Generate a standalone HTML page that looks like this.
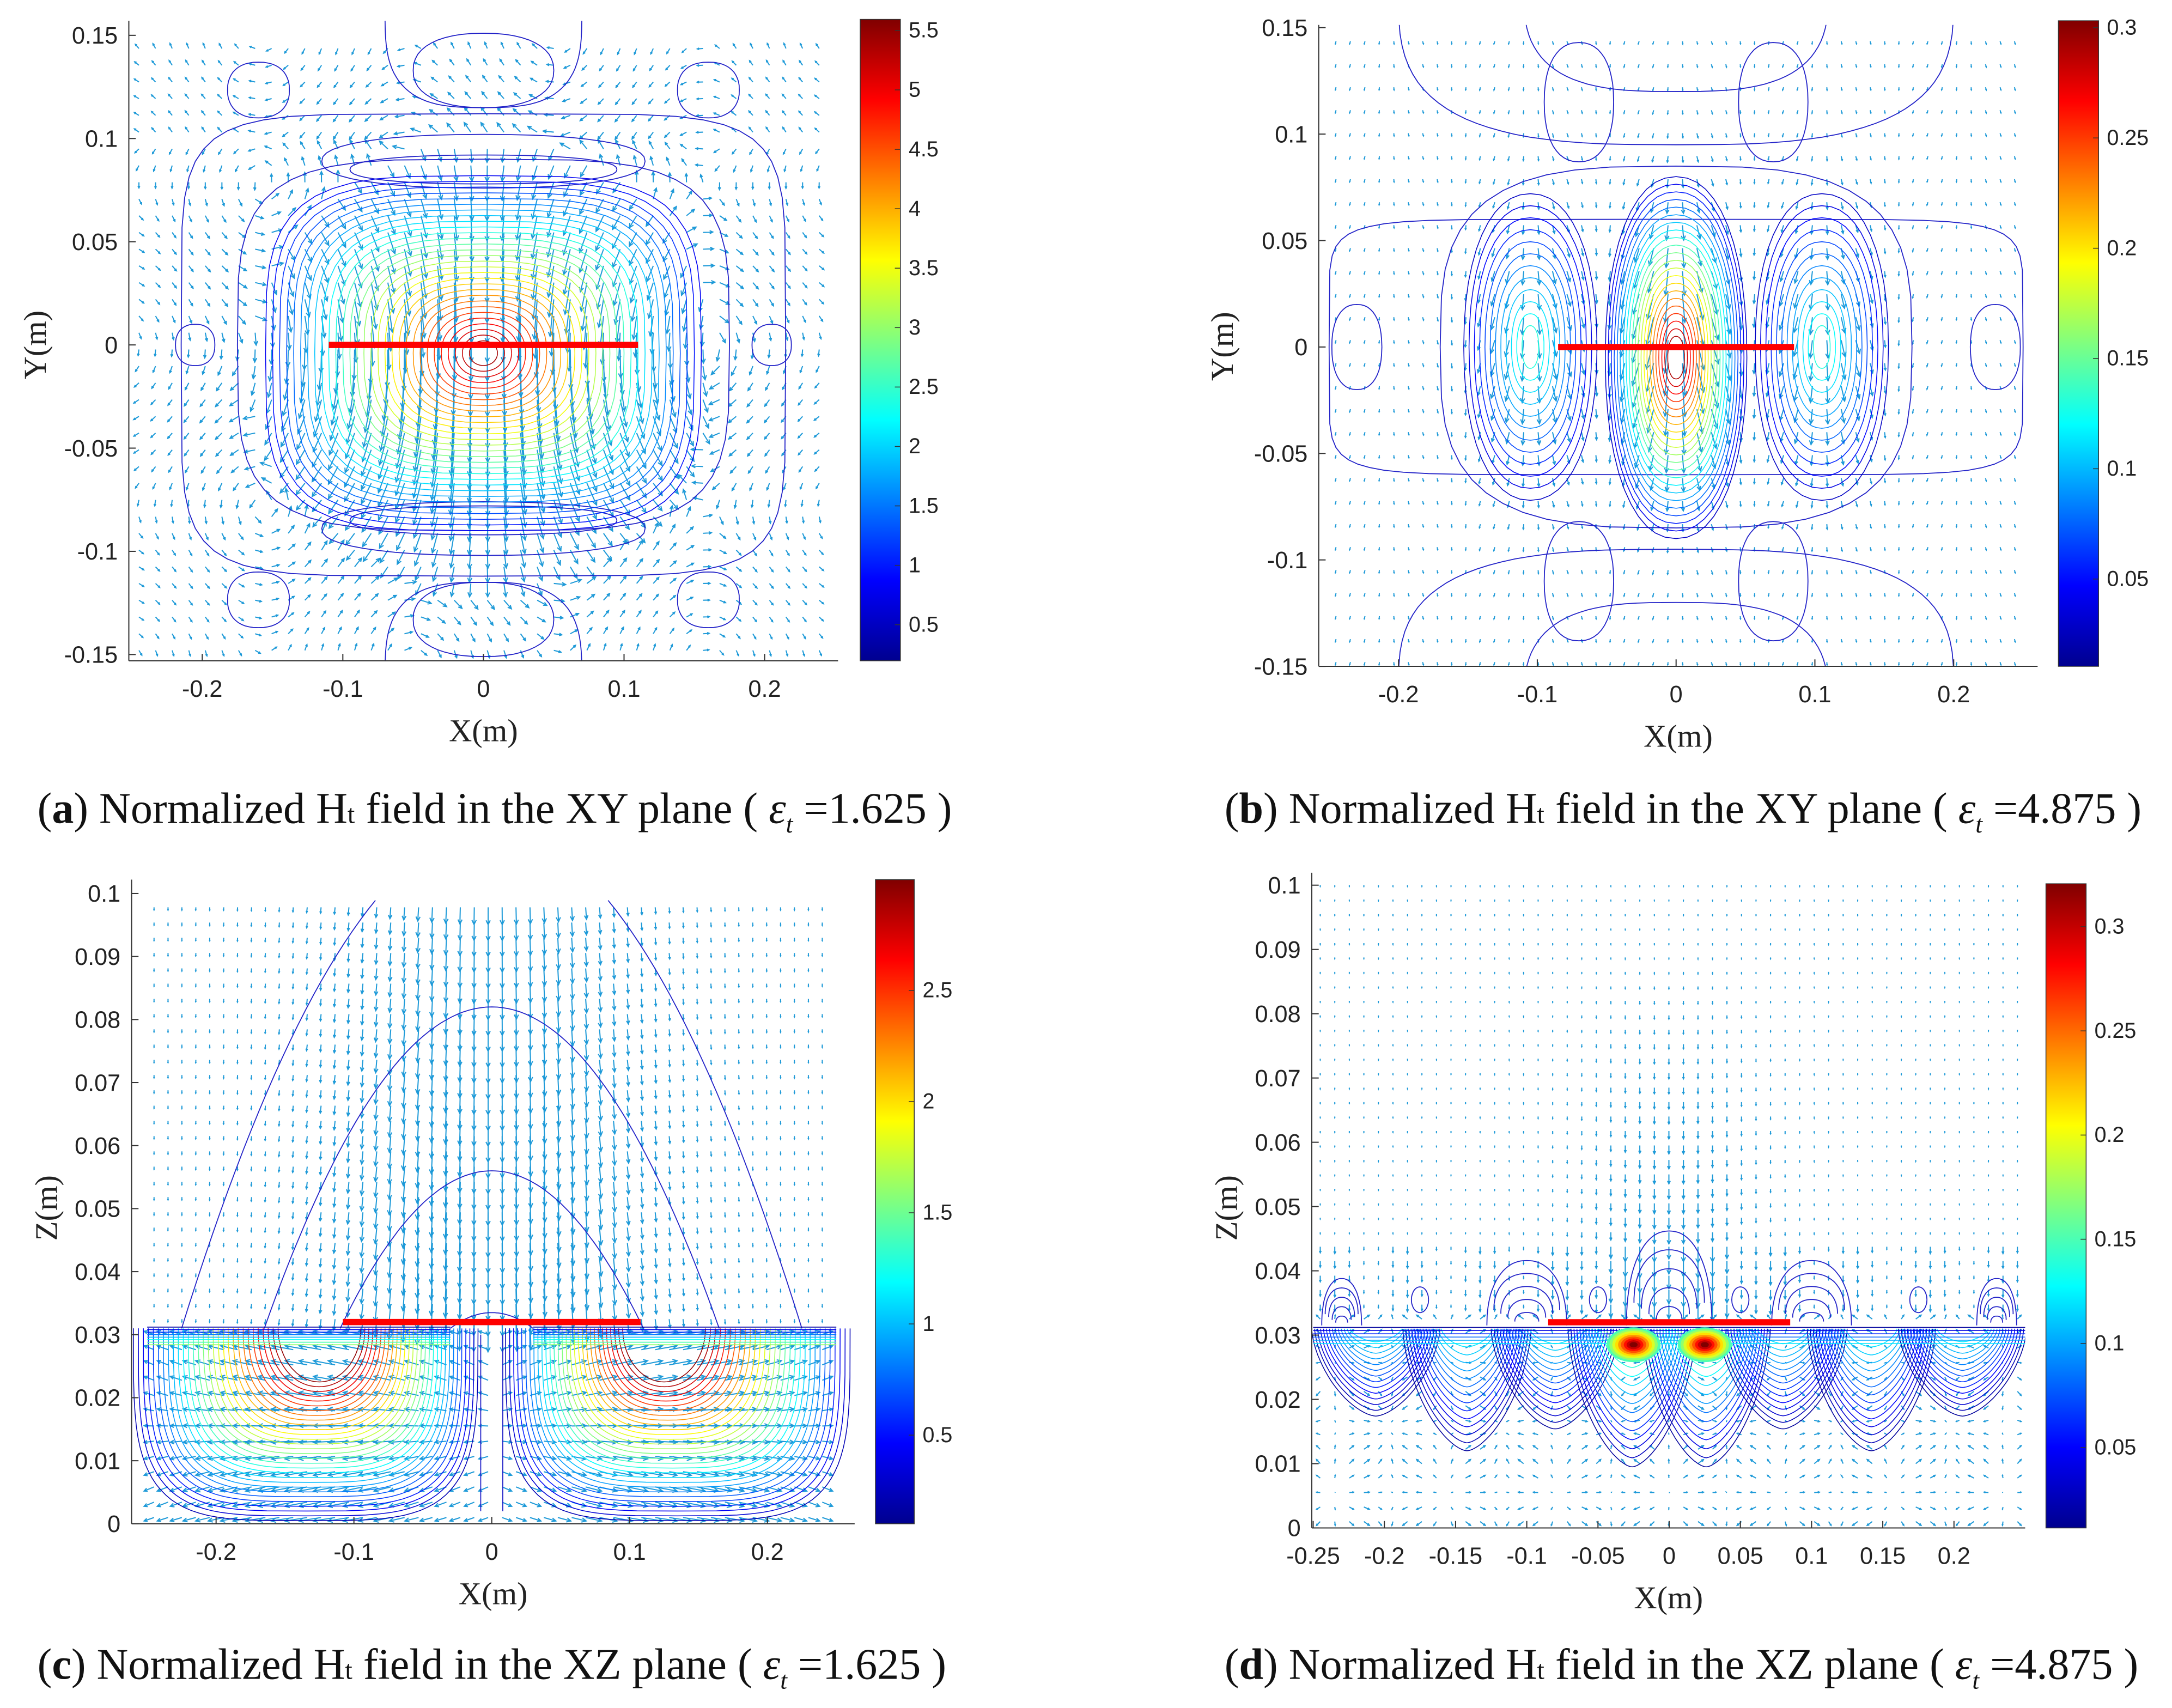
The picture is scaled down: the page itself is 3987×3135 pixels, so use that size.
<!DOCTYPE html>
<html><head><meta charset="utf-8"><style>
html,body{margin:0;padding:0;background:#fff;}
svg{display:block;}
text{font-family:"Liberation Sans",sans-serif;}
.serif{font-family:"Liberation Serif",serif;}
</style></head><body>
<svg id="fig" xmlns="http://www.w3.org/2000/svg" width="3987" height="3135" viewBox="0 0 1568 1233" preserveAspectRatio="none">
<defs>
<linearGradient id="jetgrad" x1="0" y1="1" x2="0" y2="0">
<stop offset="0" stop-color="#00008f"/><stop offset="0.125" stop-color="#0000ff"/><stop offset="0.375" stop-color="#00ffff"/><stop offset="0.625" stop-color="#ffff00"/><stop offset="0.875" stop-color="#ff0000"/><stop offset="1" stop-color="#800000"/>
</linearGradient>
<clipPath id="clipA"><rect x="93" y="15" width="512" height="462"/></clipPath>
<clipPath id="clipB"><rect x="952" y="18" width="519" height="463"/></clipPath>
<clipPath id="clipC"><rect x="95" y="630" width="522" height="470"/></clipPath>
<clipPath id="clipD"><rect x="947" y="630" width="515" height="473"/></clipPath>
</defs>
<text class="serif" x="27" y="594" font-size="31.5" fill="#111">(<tspan font-weight="bold">a</tspan>) Normalized H<tspan font-size="19">t</tspan> field in the XY plane ( <tspan font-style="italic">ε</tspan><tspan font-style="italic" font-size="18" dy="7">t</tspan><tspan dy="-7"> =</tspan>1.625 )</text>
<text class="serif" x="884" y="594" font-size="31.5" fill="#111">(<tspan font-weight="bold">b</tspan>) Normalized H<tspan font-size="19">t</tspan> field in the XY plane ( <tspan font-style="italic">ε</tspan><tspan font-style="italic" font-size="18" dy="7">t</tspan><tspan dy="-7"> =</tspan>4.875 )</text>
<text class="serif" x="27" y="1212" font-size="31.5" fill="#111">(<tspan font-weight="bold">c</tspan>) Normalized H<tspan font-size="19">t</tspan> field in the XZ plane ( <tspan font-style="italic">ε</tspan><tspan font-style="italic" font-size="18" dy="7">t</tspan><tspan dy="-7"> =</tspan>1.625 )</text>
<text class="serif" x="884" y="1212" font-size="31.5" fill="#111">(<tspan font-weight="bold">d</tspan>) Normalized H<tspan font-size="19">t</tspan> field in the XZ plane ( <tspan font-style="italic">ε</tspan><tspan font-style="italic" font-size="18" dy="7">t</tspan><tspan dy="-7"> =</tspan>4.875 )</text>
</svg>
<script>
var xTicksAB = [-0.2,-0.1,0,0.1,0.2];
var yTicksAB = [0.15,0.1,0.05,0,-0.05,-0.1,-0.15];
var zTicks = [0.1,0.09,0.08,0.07,0.06,0.05,0.04,0.03,0.02,0.01,0];
var xTicksD = [-0.25,-0.2,-0.15,-0.1,-0.05,0,0.05,0.1,0.15,0.2];
var cbTicksA = [0.5,1,1.5,2,2.5,3,3.5,4,4.5,5,5.5];
var cbTicksB = [0.05,0.1,0.15,0.2,0.25,0.3];
var cbTicksC = [0.5,1,1.5,2,2.5];
var cbTicksD = [0.05,0.1,0.15,0.2,0.25,0.3];
var barA = [-0.11,0.11];
var barB = [-0.085,0.085];
var barC = [-0.108,0.108];
var barD = [-0.085,0.085];
var lobeCentersB = [-0.105,0,0.105];
var lobePeaksB = [0.13,0.29,0.13];
var lobeCentersD = [-0.23,-0.1,0,0.1,0.23];
var lobeTopsD = [0.0388,0.0416,0.0462,0.0416,0.0388];
var dipCentersD = [-0.206,-0.142,-0.08,-0.026,0.026,0.08,0.142,0.206];
var dipDepthsD = [0.0174,0.012,0.0154,0.0095,0.0095,0.0154,0.012,0.0174];
var parabolaHalfWidthC = [0.225,0.165,0.11,0.03];
var parabolaPeaksC = [0.11,0.082,0.056,0.0335];

var SVGNS='http://www.w3.org/2000/svg';
var ROOT=document.getElementById('fig');
function mk(tag,parent,attrs){var e=document.createElementNS(SVGNS,tag);for(var k in attrs){e.setAttribute(k,attrs[k]);}(parent||ROOT).appendChild(e);return e;}
function jetc(t){t=Math.max(0,Math.min(1,t));function c(v){return Math.round(255*Math.max(0,Math.min(1,v)));}
 return 'rgb('+c(1.5-Math.abs(4*t-3))+','+c(1.5-Math.abs(4*t-2))+','+c(1.5-Math.abs(4*t-1))+')';}
var panels={
 A:{x0:93,x1:605,y0:15,y1:477,fx:function(v){return 349+v*1015;},fy:function(v){return 249-v*1490;},cb:[621,650,14,477],cbf:function(v){return 451-(v-0.5)*85.8;},vmin:0.197,vmax:5.59,clip:'clipA',ylx:33},
 B:{x0:952,x1:1471,y0:18,y1:481,fx:function(v){return 1210+v*1002;},fy:function(v){return 250.5-v*1537;},cb:[1486,1515,15,481],cbf:function(v){return 418-(v-0.05)*1592;},vmin:0.0104,vmax:0.303,clip:'clipB',ylx:890},
 C:{x0:95,x1:617,y0:635,y1:1100,fx:function(v){return 355+v*995;},fy:function(v){return 1100-v*4550;},cb:[632,660,635,1100],cbf:function(v){return 1036-(v-0.5)*160.5;},vmin:0.1,vmax:3.0,clip:'clipC',ylx:41},
 D:{x0:947,x1:1462,y0:630,y1:1103,fx:function(v){return 1205+v*1028;},fy:function(v){return 1103-v*4640;},cb:[1477,1506,638,1103],cbf:function(v){return 1045-(v-0.05)*1504;},vmin:0.0114,vmax:0.32,clip:'clipD',ylx:893}
};
function col(p,v){return jetc((v-p.vmin)/(p.vmax-p.vmin));}
function range(a,b,s){var r=[];for(var v=a;v<=b+1e-9;v+=s){r.push(v);}return r;}
var BL='#2222c8';
var TWO=2*Math.PI;

function axes(p,key,xt,yt,xlab,ylab,ylabY){
 var g=mk('g',null,{});
 
 
 mk('line',g,{x1:p.x0,y1:p.y0,x2:p.x0,y2:p.y1,stroke:'#333','stroke-width':0.8});
 mk('line',g,{x1:p.x0,y1:p.y1,x2:p.x1,y2:p.y1,stroke:'#333','stroke-width':0.8});
 xt.forEach(function(v){var x=p.fx(v);mk('line',g,{x1:x,y1:p.y1,x2:x,y2:p.y1-5,stroke:'#333','stroke-width':0.8});
  var t=mk('text',g,{x:x,y:p.y1+26,'text-anchor':'middle','font-size':17,fill:'#222'});t.textContent=String(v);
  
  });
 yt.forEach(function(v){var y=p.fy(v);mk('line',g,{x1:p.x0,y1:y,x2:p.x0+5,y2:y,stroke:'#333','stroke-width':0.8});
  var t=mk('text',g,{x:p.x0-8,y:y+6,'text-anchor':'end','font-size':17,fill:'#222'});t.textContent=String(v);
  
  });
 var xl=mk('text',g,{x:(p.x0+p.x1)/2,y:p.y1+58,'text-anchor':'middle','font-size':23,'class':'serif',fill:'#222'});xl.textContent=xlab;
 
 
 var ly=mk('text',g,{x:0,y:0,'text-anchor':'middle','font-size':23,'class':'serif',fill:'#222',transform:'translate('+p.ylx+','+ylabY+') rotate(-90)'});ly.textContent=ylab;
 
 
}
function colorbar(p,key,ticks){
 var x0=p.cb[0],x1=p.cb[1],y0=p.cb[2],y1=p.cb[3];var g=mk('g',null,{});
 
 
 mk('rect',g,{x:x0,y:y0,width:x1-x0,height:y1-y0,fill:'url(#jetgrad)',stroke:'#333','stroke-width':0.6});
 ticks.forEach(function(v){var y=p.cbf(v);mk('line',g,{x1:x1-4,y1:y,x2:x1,y2:y,stroke:'#333','stroke-width':0.6});
  var t=mk('text',g,{x:x1+6,y:y+5,'font-size':15.5,fill:'#222'});t.textContent=String(v);
  
  });
}
function quiver(p,key,fn,xs,ys){
 var d='';
 for(var i=0;i<xs.length;i++){for(var j=0;j<ys.length;j++){var x=xs[i],y=ys[j];var r=fn(x,y);if(!r){continue;}var dx=r[0],dy=r[1];var px=p.fx(x),py=p.fy(y);
  var L=Math.hypot(dx,dy);if(L<0.3){d+='M'+px.toFixed(1)+' '+py.toFixed(1)+'h0.8';continue;}
  var ex=px+dx,ey=py+dy;d+='M'+px.toFixed(1)+' '+py.toFixed(1)+'L'+ex.toFixed(1)+' '+ey.toFixed(1);
  var h=Math.min(3.5,0.35*L),a=Math.atan2(dy,dx);
  d+='M'+(ex-h*Math.cos(a-0.45)).toFixed(1)+' '+(ey-h*Math.sin(a-0.45)).toFixed(1)+'L'+ex.toFixed(1)+' '+ey.toFixed(1)+'L'+(ex-h*Math.cos(a+0.45)).toFixed(1)+' '+(ey-h*Math.sin(a+0.45)).toFixed(1);}}
 var e=mk('path',null,{d:d,stroke:'#1e9ad8','stroke-width':0.8,fill:'none','clip-path':'url(#'+p.clip+')'});
 
 
}
function sup(p,cx,cy,a,b,pw,t0,t1){var s='';var n=48;for(var i=0;i<=n;i++){var t=t0+(t1-t0)*i/n;var c=Math.cos(t),sn=Math.sin(t);
 var X=p.fx(cx+a*Math.sign(c)*Math.pow(Math.abs(c),2/pw)),Y=p.fy(cy+b*Math.sign(sn)*Math.pow(Math.abs(sn),2/pw));
 s+=(i?'L':'M')+X.toFixed(1)+' '+Y.toFixed(1);}return s;}
function contour(p,key,d,color,w){var e=mk('path',null,{d:d,stroke:color,'stroke-width':w||0.7,fill:'none','clip-path':'url(#'+p.clip+')'});
 
 }
function bar(p,key,r,y){var e=mk('line',null,{x1:p.fx(r[0]),y1:p.fy(y),x2:p.fx(r[1]),y2:p.fy(y),stroke:'#ff0000','stroke-width':4.5});
 
 }

// Panel A
try{(function(){var p=panels.A;
 quiver(p,'a',function(x,y){var g=Math.exp(-(x/0.12)*(x/0.12)-((y+0.01)/0.08)*((y+0.01)/0.08));var L=4+32*g;
  var ux=-x*y*90, uy=1; if(g<0.15){ux=Math.sin(y*40)*0.8;uy=Math.cos(x*30);} var n=Math.hypot(ux,uy)||1;
  return [ux/n*L,(y>0.1?-1:1)*uy/n*L];}, range(-0.245,0.245,0.0118), range(-0.148,0.148,0.0081));
 contour(p,'a',sup(p,0,0,0.175,0.09,4,0,TWO),BL);
 contour(p,'a',sup(p,0,0,0.215,0.112,6,0,TWO),BL);
 var ells=[[0,0.133,0.05,0.018],[0,-0.133,0.05,0.018],[0,0.085,0.095,0.007],[0,-0.085,0.095,0.007],[0,0.089,0.115,0.013],[0,-0.089,0.115,0.013],
  [-0.16,0.1235,0.022,0.0135],[0.16,0.1235,0.022,0.0135],[-0.16,-0.1235,0.022,0.0135],[0.16,-0.1235,0.022,0.0135],
  [-0.205,0,0.014,0.01],[0.205,0,0.014,0.01]];
 ells.forEach(function(e){contour(p,'a',sup(p,e[0],e[1],e[2],e[3],2.3,0,TWO),BL);});
 contour(p,'a',sup(p,0,0.16,0.07,0.045,3,Math.PI,TWO),BL);contour(p,'a',sup(p,0,-0.16,0.07,0.045,3,0,Math.PI),BL);
 for(var k=0;k<30;k++){var f=k/29;var v=5.4-f*4.6;contour(p,'a',sup(p,0,-0.004,0.01+f*0.145,0.006+f*0.08,2+f*1.8,0,TWO),col(p,v),0.6);}
 bar(p,'a',barA,0);
 axes(p,'A',xTicksAB,yTicksAB,'X(m)','Y(m)',249);colorbar(p,'A',cbTicksA);
})();}catch(err){console.log(err);}

// Panel B
try{(function(){var p=panels.B;
 quiver(p,'b',function(x,y){var g=0;lobeCentersB.forEach(function(c,i){g+=(i==1?1:0.5)*Math.exp(-((x-c)/0.04)*((x-c)/0.04)-(y/0.06)*(y/0.06));});
  var L=2+22*g;return [Math.sin(x*60)*L*0.3,L];}, range(-0.245,0.245,0.0104), range(-0.148,0.148,0.0108));
 contour(p,'b',sup(p,0,0,0.17,0.085,3.2,0,TWO),BL);
 contour(p,'b',sup(p,0,0,0.25,0.06,8,0,TWO),BL);
 contour(p,'b',sup(p,0,0.165,0.2,0.07,3,Math.PI,TWO),BL);contour(p,'b',sup(p,0,-0.16,0.2,0.065,3,0,Math.PI),BL);
 contour(p,'b',sup(p,0,0.17,0.11,0.05,3,Math.PI,TWO),BL);contour(p,'b',sup(p,0,-0.17,0.11,0.05,3,0,Math.PI),BL);
 var ells=[[-0.07,0.115,0.025,0.028],[0.07,0.115,0.025,0.028],[-0.07,-0.11,0.025,0.028],[0.07,-0.11,0.025,0.028],[-0.23,0,0.018,0.02],[0.23,0,0.018,0.02]];
 ells.forEach(function(e){contour(p,'b',sup(p,e[0],e[1],e[2],e[3],2.3,0,TWO),BL);});
 lobeCentersB.forEach(function(c,i){var pk=lobePeaksB[i];var n=(i==1)?22:12;
  for(var k=0;k<n;k++){var f=k/(n-1);var v=pk-f*(pk-0.03);contour(p,'b',sup(p,c,i==1?-0.005:0,0.006+f*(i==1?0.045:0.042),0.01+f*(i==1?0.075:0.062),2.2,0,TWO),col(p,v),0.6);}});
 bar(p,'b',barB,0);
 axes(p,'B',xTicksAB,yTicksAB,'X(m)','Y(m)',250);colorbar(p,'B',cbTicksB);
})();}catch(err){console.log(err);}

// Panel C
try{(function(){var p=panels.C;
 quiver(p,'c',function(x,z){if(z>0.032){var g=Math.exp(-(x/0.1)*(x/0.1))*(1-(z-0.03)/0.13);var L=2+22*g;return [x*30*g,L];}
  var L2=6+10*Math.exp(-((Math.abs(x)-0.13)/0.08)*((Math.abs(x)-0.13)/0.08));return [(x<0?-1:1)*L2,-Math.sin((z-0.015)*150)*3];},
  range(-0.245,0.245,0.0101), range(0.001,0.1,0.00242));
 parabolaHalfWidthC.forEach(function(w,i){var pk=parabolaPeaksC[i];var h=(pk-0.031);var d='';var pen=false;
  for(var j=0;j<=80;j++){var x=-w+2*w*j/80;var z=0.031+h*(1-(x/w)*(x/w));if(z>0.1){pen=false;continue;}d+=(pen?'L':'M')+p.fx(x).toFixed(1)+' '+p.fy(z).toFixed(1);pen=true;}
  contour(p,'c',d,BL);});
 [-1,1].forEach(function(s){for(var k=0;k<30;k++){var f=k/29;var v=0.25+f*2.7;
  var rx=0.125-f*0.095, rz=0.0305-f*0.022;var cx=s*(0.135-f*0.01);
  contour(p,'c',sup(p,cx,0.031,rx,rz,2+(1-f)*2,Math.PI,TWO),col(p,v),0.6);}});
 for(var k=0;k<8;k++){var z=0.0312-k*0.0004;var d='M'+p.fx(-0.25)+' '+p.fy(z)+'L'+p.fx(-0.03)+' '+p.fy(z)+'M'+p.fx(0.03)+' '+p.fy(z)+'L'+p.fx(0.25)+' '+p.fy(z);contour(p,'c',d,col(p,0.2+k*0.2),0.7);}
 contour(p,'c','M'+p.fx(-0.008)+' '+p.fy(0.002)+'L'+p.fx(-0.008)+' '+p.fy(0.03),BL);
 contour(p,'c','M'+p.fx(0.008)+' '+p.fy(0.002)+'L'+p.fx(0.008)+' '+p.fy(0.03),BL);
 bar(p,'c',barC,0.032);
 axes(p,'C',xTicksAB,zTicks,'X(m)','Z(m)',872);colorbar(p,'C',cbTicksC);
})();}catch(err){console.log(err);}

// Panel D
try{(function(){var p=panels.D;
 quiver(p,'d',function(x,z){if(z>0.033){var g=Math.exp(-(x/0.06)*(x/0.06))*Math.max(0,1-(z-0.03)/0.06);return [0,1+10*g+(z<0.045?4*Math.abs(Math.sin(x*60)):0)];}
  return [Math.sin(x*80)*4,Math.cos(z*300)*3];}, range(-0.245,0.245,0.0102), range(0.001,0.1,0.00225));
 lobeCentersD.forEach(function(c,i){var top=lobeTopsD[i];for(var k=0;k<5;k++){var f=k/4;var h=(top-0.0315)*(1-f*0.8);var w=(i==2?0.03:(Math.abs(c)>0.2?0.014:0.028))*(1-f*0.7);
  contour(p,'d',sup(p,c,0.0315+(k?h*0.3:0),w,h*(k?0.7:1),2.2,0,Math.PI),BL);}});
 [-0.175,-0.05,0.05,0.175].forEach(function(c){contour(p,'d',sup(p,c,0.0355,0.006,0.002,2,0,TWO),BL);});
 dipCentersD.forEach(function(c,i){var dep=dipDepthsD[i];for(var k=0;k<14;k++){var f=k/13;var rz=(0.031-dep)*(1-f*0.85);var rx=0.045*(1-f*0.6);
  var v=0.02+f*(Math.abs(c)<0.03?0.14:0.1);contour(p,'d',sup(p,c,0.031,rx,rz,1.6,Math.PI,TWO),col(p,v),0.6);}});
 for(var k=0;k<6;k++){var z=0.0312-k*0.0005;contour(p,'d','M'+p.fx(-0.25)+' '+p.fy(z)+'L'+p.fx(0.25)+' '+p.fy(z),col(p,0.02+k*0.02),0.6);}
 [-0.025,0.025].forEach(function(c){for(var k=0;k<9;k++){var f=k/8;var e=mk('path',null,{d:sup(p,c,0.0285,0.019*(1-f*0.85),0.0027*(1-f*0.85),2,0,TWO),fill:col(p,0.15+f*0.17),stroke:'none','clip-path':'url(#clipD)'});
  
  }});
 bar(p,'d',barD,0.032);
 axes(p,'D',xTicksD,zTicks,'X(m)','Z(m)',872);colorbar(p,'D',cbTicksD);
})();}catch(err){console.log(err);}
</script>
</body></html>
